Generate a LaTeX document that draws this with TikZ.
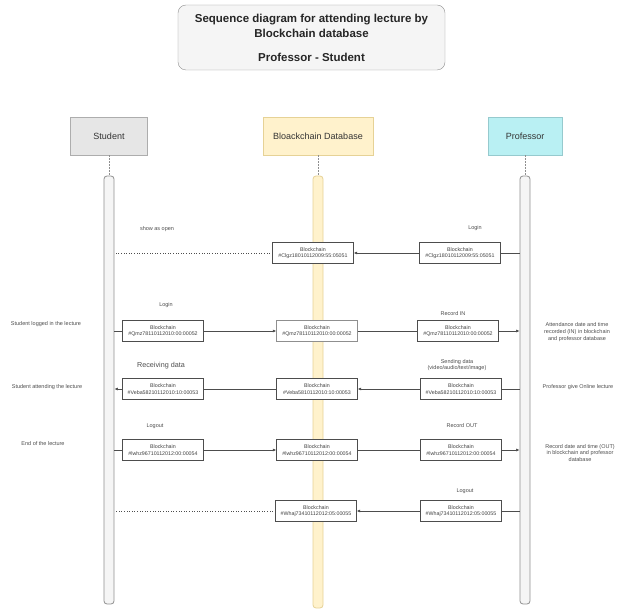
\documentclass[tikz,border=0pt]{standalone}
\usepackage{fontspec}
\setmainfont{Liberation Sans}
\usetikzlibrary{arrows.meta,shadows}

\definecolor{stufill}{HTML}{E6E6E6}
\definecolor{studraw}{HTML}{ADADAD}
\definecolor{dbfill}{HTML}{FFF2CC}
\definecolor{dbdraw}{HTML}{E6D296}
\definecolor{proffill}{HTML}{B9F0F3}
\definecolor{profdraw}{HTML}{96CACE}
\definecolor{barfill}{HTML}{F5F5F5}
\definecolor{bardraw}{HTML}{8F8F8F}
\definecolor{inkline}{HTML}{4D4D4D}

\tikzset{
    headbox/.style={draw, line width=0.7pt, minimum height=38pt, inner sep=0pt, font=\fontsize{9}{11}\selectfont, text=black!80},
    lifebar/.style={draw=bardraw, line width=0.8pt, fill=barfill, rounded corners=3pt, minimum width=10pt, inner sep=0pt},
    chainbox/.style={draw=inkline, fill=white, minimum width=81pt, minimum height=21pt, inner sep=1pt,
        align=center, font=\fontsize{5.3}{6.4}\selectfont, text=black!75,
        drop shadow={shadow xshift=0.8pt, shadow yshift=-0.8pt, opacity=0.25, fill=black}},
    lbl/.style={font=\fontsize{5.5}{6.6}\selectfont, text=black!70, align=center},
    msgline/.style={draw=inkline, line width=0.6pt, -{Latex[length=3.5pt,width=3pt]}},
    plainline/.style={draw=inkline, line width=0.6pt},
    openline/.style={draw=inkline, line width=0.6pt, dotted},
    lifedash/.style={draw=bardraw, dash pattern=on 1.5pt off 1.5pt}
}

\begin{document}
\begin{tikzpicture}[x=1pt, y=-1pt]
        \useasboundingbox (0,0) rectangle (618,609);

        % Title
        \node[draw=bardraw, fill=barfill, rounded corners=8pt, minimum width=267pt, minimum height=65pt,
              align=center, font=\bfseries\fontsize{11.5}{15}\selectfont, text=black!85] (Title) at (311.5,37.5)
              {Sequence diagram for attending lecture by\\Blockchain database\\[9pt]Professor - Student};

        % Nodes (lifeline heads)
        \node[headbox, fill=stufill, draw=studraw, minimum width=77pt] (SHead) at (109,136) {Student};
        \node[headbox, fill=dbfill, draw=dbdraw, minimum width=110pt] (BHead) at (318,136) {Bloackchain Database};
        \node[headbox, fill=proffill, draw=profdraw, minimum width=74pt] (PHead) at (525,136) {Professor};

        % Nodes (lifeline bars)
        \node[lifebar, minimum height=428pt] (SBar) at (109,390) {};
        \node[lifebar, fill=dbfill, draw=dbdraw, minimum height=432pt] (BBar) at (318,392) {};
        \node[lifebar, minimum height=428pt] (PBar) at (525,390) {};

        \draw[lifedash] (SHead.south) -- (SBar.north);
        \draw[lifedash] (BHead.south) -- (BBar.north);
        \draw[lifedash] (PHead.south) -- (PBar.north);

        % Nodes (Student side)
        \node[chainbox] (S2) at (163,331) {Blockchain\\\#Qmz78110112010:00:00052};
        \node[chainbox] (S3) at (163,389) {Blockchain\\\#Veba58210112010:10:00053};
        \node[chainbox] (S4) at (163,450) {Blockchain\\\#lwhz96710112012:00:00054};

        % Nodes (Blockchain side)
        \node[chainbox] (B1) at (313,253) {Blockchain\\\#Clgz18010112009:55:05051};
        \node[chainbox, draw=bardraw] (B2) at (317,331) {Blockchain\\\#Qmz78110112010:00:00052};
        \node[chainbox] (B3) at (317,389) {Blockchain\\\#Veba5810112010:10:00053};
        \node[chainbox] (B4) at (317,450) {Blockchain\\\#lwhz96710112012:00:00054};
        \node[chainbox] (B5) at (316,511) {Blockchain\\\#Whaj73410112012:05:00055};

        % Nodes (Professor side)
        \node[chainbox] (P1) at (460,253) {Blockchain\\\#Clgz18010112009:55:05051};
        \node[chainbox] (P2) at (458,331) {Blockchain\\\#Qmz78110112010:00:00052};
        \node[chainbox] (P3) at (461,389) {Blockchain\\\#Veba58210112010:10:00053};
        \node[chainbox] (P4) at (461,450) {Blockchain\\\#lwhz96710112012:00:00054};
        \node[chainbox] (P5) at (461,511) {Blockchain\\\#Whaj73410112012:05:00055};

        % Labels
        \node[lbl] (L1) at (157,229) {show as open};
        \node[lbl] (L2) at (475,228) {Login};
        \node[lbl] (L3) at (166,305) {Login};
        \node[lbl] (L4) at (453,314) {Record IN};
        \node[lbl] (L5) at (46,324) {Student logged in the lecture};
        \node[lbl] (L6) at (577,332) {Attendance date and time\\recorded (IN) in blockchain\\and professor database};
        \node[lbl, font=\fontsize{7.2}{8.5}\selectfont] (L7) at (161,366) {Receiving data};
        \node[lbl] (L8) at (457,365) {Sending data\\(video/audio/text/image)};
        \node[lbl] (L9) at (47,387) {Student attending the lecture};
        \node[lbl] (L10) at (578,387) {Professor give Online lecture};
        \node[lbl] (L11) at (155,426) {Logout};
        \node[lbl] (L12) at (462,426) {Record OUT};
        \node[lbl] (L13) at (43,444) {End of the lecture};
        \node[lbl] (L14) at (580,453) {Record date and time (OUT)\\in blockchain and professor\\database};
        \node[lbl] (L15) at (465,491) {Logout};

        % Messages
        \draw[plainline] (P1.east -| PBar.west) -- (P1.east);
        \draw[msgline] (P1.west) -- (B1.east);
        \draw[openline] (B1.west) -- (B1.west -| SBar.east);

        \draw[plainline] (S2.west -| SBar.east) -- (S2.west);
        \draw[msgline] (S2.east) -- (B2.west);
        \draw[plainline] (B2.east) -- (P2.west);
        \draw[msgline] (P2.east) -- (P2.east -| PBar.west);

        \draw[plainline] (P3.east -| PBar.west) -- (P3.east);
        \draw[msgline] (P3.west) -- (B3.east);
        \draw[plainline] (B3.west) -- (S3.east);
        \draw[msgline] (S3.west) -- (S3.west -| SBar.east);

        \draw[plainline] (S4.west -| SBar.east) -- (S4.west);
        \draw[msgline] (S4.east) -- (B4.west);
        \draw[plainline] (B4.east) -- (P4.west);
        \draw[msgline] (P4.east) -- (P4.east -| PBar.west);

        \draw[plainline] (P5.east -| PBar.west) -- (P5.east);
        \draw[msgline] (P5.west) -- (B5.east);
        \draw[openline] (B5.west) -- (B5.west -| SBar.east);
\end{tikzpicture}
\end{document}
